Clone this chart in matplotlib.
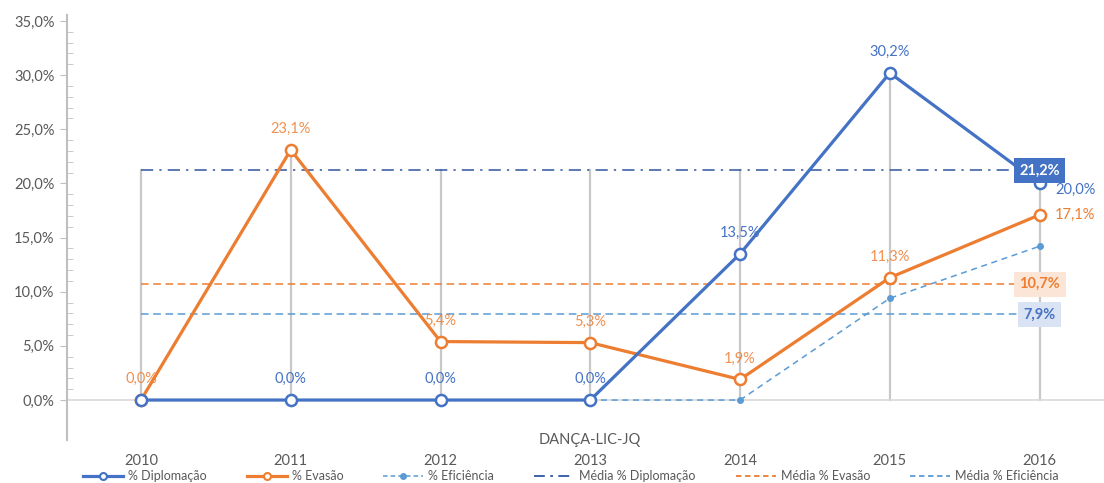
import matplotlib
matplotlib.use("Agg")
import matplotlib.pyplot as plt
from matplotlib.ticker import FixedLocator, FuncFormatter
from matplotlib.lines import Line2D

plt.rcParams["font.family"] = ["Lato", "DejaVu Sans"]

anos = [2010, 2011, 2012, 2013, 2014, 2015, 2016]
diplomacao = [0.0, 0.0, 0.0, 0.0, 13.5, 30.2, 20.0]
evasao = [0.0, 23.1, 5.4, 5.3, 1.9, 11.3, 17.1]
eficiencia = [0.0, 0.0, 0.0, 0.0, 0.0, 9.4, 14.2]
media_diplomacao = 21.2
media_evasao = 10.7
media_eficiencia = 7.9
curso = "DANÇA-LIC-JQ"

AZUL = "#4472C4"
LARANJA = "#ED7D31"
AZUL_CLARO = "#5B9BD5"
AZUL_ESCURO = "#2F55A0"
CINZA = "#595959"


def pct(v):
    return f"{v:.1f}%".replace(".", ",")


fig = plt.figure(figsize=(11.04, 4.83), dpi=100)
ax = fig.add_axes([67 / 1104, 43 / 483, 1 - 67 / 1104, 425 / 483])
ax.set_xlim(2009.506, 2016.43)
ax.set_ylim(-3.69, 35.55)

# linhas de chamada (cinza) do zero ate o maior valor em cada ano
for i, a in enumerate(anos):
    topo = max(diplomacao[i], evasao[i], eficiencia[i], media_diplomacao,
               media_evasao, media_eficiencia)
    ax.plot([a, a], [0, topo], color="#C8C8C8", lw=1.6, zorder=1)
ax.axhline(0, color="#D9D9D9", lw=1.2, zorder=1)

x_media = [anos[0], anos[-1]]
ax.plot(x_media, [media_diplomacao] * 2, color=AZUL_ESCURO, lw=1.1,
        dashes=(8, 4, 1.5, 4), zorder=2)
ax.plot(x_media, [media_evasao] * 2, color=LARANJA, lw=1.1,
        dashes=(5, 3), zorder=2)
ax.plot(x_media, [media_eficiencia] * 2, color=AZUL_CLARO, lw=1.1,
        dashes=(5, 3), zorder=2)

ax.plot(anos, eficiencia, color=AZUL_CLARO, lw=1.1, dashes=(4, 3),
        marker="o", ms=4, zorder=3)
ax.plot(anos, evasao, color=LARANJA, lw=2.3, marker="o", ms=8,
        mfc="white", mew=1.8, zorder=4)
ax.plot(anos, diplomacao, color=AZUL, lw=2.3, marker="o", ms=8,
        mfc="white", mew=1.8, zorder=5)

# rotulos dos dados
for i, a in enumerate(anos):
    if a == 2016:
        continue
    if a != 2010:
        ax.annotate(pct(diplomacao[i]), (a, diplomacao[i]), xytext=(0, 10),
                    textcoords="offset points", ha="center", va="bottom",
                    color=AZUL, fontsize=10.5)
    ax.annotate(pct(evasao[i]), (a, evasao[i]), xytext=(0, 10),
                textcoords="offset points", ha="center", va="bottom",
                color=LARANJA, fontsize=10.5, alpha=0.85)
ax.annotate(pct(diplomacao[-1]), (anos[-1], diplomacao[-1]), xytext=(11, -5),
            textcoords="offset points", ha="left", va="center",
            color=AZUL, fontsize=10.5)
ax.annotate(pct(evasao[-1]), (anos[-1], evasao[-1]), xytext=(11, 0),
            textcoords="offset points", ha="left", va="center",
            color=LARANJA, fontsize=10.5)

# rotulos das medias
caixa = "square,pad=0.38"
ax.text(anos[-1], media_diplomacao, pct(media_diplomacao), ha="center",
        va="center", color="white", fontsize=10.5, fontweight="bold", zorder=7,
        bbox=dict(boxstyle=caixa, fc=AZUL, ec="none"))
ax.text(anos[-1], media_evasao, pct(media_evasao), ha="center",
        va="center", color=LARANJA, fontsize=10.5, fontweight="bold", zorder=7,
        bbox=dict(boxstyle=caixa, fc="#FBE5D6", ec="none"))
ax.text(anos[-1], media_eficiencia, pct(media_eficiencia), ha="center",
        va="center", color=AZUL, fontsize=10.5, fontweight="bold", zorder=7,
        bbox=dict(boxstyle=caixa, fc="#DAE3F3", ec="none"))

# eixos
ax.yaxis.set_major_locator(FixedLocator([0, 5, 10, 15, 20, 25, 30, 35]))
ax.yaxis.set_minor_locator(FixedLocator([v for v in range(0, 36) if v % 5]))
ax.yaxis.set_major_formatter(FuncFormatter(lambda v, p: pct(v)))
ax.tick_params(axis="y", which="major", length=5, color="#BFBFBF",
               labelcolor=CINZA, labelsize=10.5, pad=4)
ax.tick_params(axis="y", which="minor", length=4, direction="in",
               color="#BFBFBF")
ax.set_xticks(anos)
ax.set_xticklabels([str(a) for a in anos])
ax.tick_params(axis="x", length=0, labelcolor=CINZA, labelsize=10.5, pad=10)
for s in ["top", "right", "bottom"]:
    ax.spines[s].set_visible(False)
ax.spines["left"].set_color("#BFBFBF")
ax.spines["left"].set_linewidth(1.5)

fig.text(590 / 1104, 1 - 440 / 483, curso, ha="center", va="center",
         color=CINZA, fontsize=10.5)

handles = [
    Line2D([], [], color=AZUL, lw=2.3, marker="o", ms=5, mfc="white", mew=1.5),
    Line2D([], [], color=LARANJA, lw=2.3, marker="o", ms=5, mfc="white", mew=1.5),
    Line2D([], [], color=AZUL_CLARO, lw=1.1, dashes=(3, 2), marker="o", ms=4),
    Line2D([], [], color=AZUL_ESCURO, lw=1.3, dashes=(6, 3, 1.5, 3)),
    Line2D([], [], color=LARANJA, lw=1.3, dashes=(3, 2)),
    Line2D([], [], color=AZUL_CLARO, lw=1.3, dashes=(3, 2)),
]
rotulos = ["% Diplomação", "% Evasão", "% Eficiência", "Média % Diplomação",
           "Média % Evasão", "Média % Eficiência"]
leg = fig.legend(handles, rotulos, loc="center", ncol=6, frameon=False,
                 bbox_to_anchor=(0.517, 1 - 476 / 483), fontsize=9,
                 handlelength=3.2, columnspacing=3.2, handletextpad=0.4)
for t in leg.get_texts():
    t.set_color(CINZA)

fig.savefig("out.png", dpi=100)
